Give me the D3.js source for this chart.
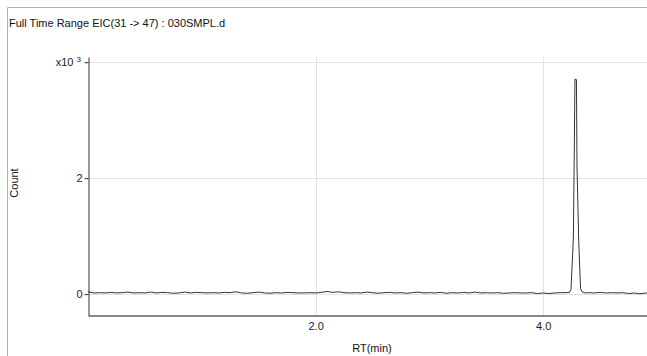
<!DOCTYPE html>
<html>
<head>
<meta charset="utf-8">
<script src="https://cdn.jsdelivr.net/npm/d3@7"></script>
<style>
  html, body { margin: 0; padding: 0; background: #fff; }
  svg { display: block; font-family: "Liberation Sans", Arial, sans-serif; }
</style>
</head>
<body>
<svg id="chart" width="647" height="356"></svg>
<script>
// Chromatogram trace: retention time (min) and count (x10^3)
const rtMin = [
  0.00, 0.05, 0.10, 0.15, 0.20, 0.25, 0.30, 0.35, 0.40, 0.45,
  0.50, 0.55, 0.60, 0.65, 0.70, 0.75, 0.80, 0.85, 0.90, 0.95,
  1.00, 1.05, 1.10, 1.15, 1.20, 1.25, 1.30, 1.35, 1.40, 1.45,
  1.50, 1.55, 1.60, 1.65, 1.70, 1.75, 1.80, 1.85, 1.90, 1.95,
  2.00, 2.05, 2.10, 2.15, 2.20, 2.25, 2.30, 2.35, 2.40, 2.45,
  2.50, 2.55, 2.60, 2.65, 2.70, 2.75, 2.80, 2.85, 2.90, 2.95,
  3.00, 3.05, 3.10, 3.15, 3.20, 3.25, 3.30, 3.35, 3.40, 3.45,
  3.50, 3.55, 3.60, 3.65, 3.70, 3.75, 3.80, 3.85, 3.90, 3.95,
  4.00, 4.05, 4.10, 4.15, 4.20, 4.23,
  4.244, 4.265, 4.273, 4.279, 4.292, 4.297, 4.312, 4.328, 4.341,
  4.37, 4.40, 4.45, 4.50, 4.55, 4.60, 4.65, 4.70, 4.75,
  4.80, 4.85, 4.90, 4.93
];
const counts = [
  0.040, 0.020, 0.025, 0.020, 0.030, 0.020, 0.025, 0.035, 0.020, 0.025,
  0.020, 0.035, 0.020, 0.030, 0.025, 0.015, 0.020, 0.035, 0.020, 0.030,
  0.025, 0.020, 0.025, 0.020, 0.030, 0.025, 0.040, 0.020, 0.015, 0.025,
  0.035, 0.020, 0.015, 0.025, 0.020, 0.030, 0.025, 0.020, 0.020, 0.025,
  0.020, 0.030, 0.045, 0.030, 0.040, 0.025, 0.020, 0.025, 0.020, 0.035,
  0.025, 0.015, 0.025, 0.030, 0.020, 0.025, 0.015, 0.025, 0.035, 0.020,
  0.025, 0.020, 0.030, 0.015, 0.025, 0.020, 0.030, 0.020, 0.035, 0.020,
  0.025, 0.020, 0.025, 0.015, 0.020, 0.025, 0.020, 0.020, 0.025, 0.010,
  0.020, 0.010, 0.020, 0.025, 0.025, 0.030,
  0.080, 0.970, 2.450, 3.710, 3.700, 2.200, 0.920, 0.100, 0.040,
  0.020, 0.025, 0.020, 0.030, 0.020, 0.025, 0.020, 0.025, 0.010,
  0.020, 0.005, 0.020, 0.015
];
const xTicks = [2, 4];
const yTicks = [0, 2, 4];

const title = 'Full Time Range EIC(31 -> 47) : 030SMPL.d';

const svg = d3.select('#chart');
const W = 647, H = 356;
const plot = { left: 88, right: 647, top: 57, bottom: 315 };

// Outer frame
svg.append('line')
  .attr('x1', 7.5).attr('x2', W).attr('y1', 7.5).attr('y2', 7.5)
  .attr('stroke', '#b0b0b0');
svg.append('line')
  .attr('x1', 7.5).attr('x2', 7.5).attr('y1', 7.5).attr('y2', H)
  .attr('stroke', '#b0b0b0');

// Scales
const x = d3.scaleLinear().domain([0, 4.912]).range([plot.left, plot.right]);
const y = d3.scaleLinear().domain([-0.36, 4.09]).range([plot.bottom, plot.top]);

// Grid lines
svg.append('g')
  .selectAll('line')
  .data(yTicks)
  .enter()
  .append('line')
  .attr('x1', plot.left).attr('x2', plot.right)
  .attr('y1', (d) => Math.round(y(d)) + 0.5)
  .attr('y2', (d) => Math.round(y(d)) + 0.5)
  .attr('stroke', '#e2e2e2');

svg.append('g')
  .selectAll('line')
  .data(xTicks)
  .enter()
  .append('line')
  .attr('x1', (d) => Math.round(x(d)) + 0.5)
  .attr('x2', (d) => Math.round(x(d)) + 0.5)
  .attr('y1', plot.top).attr('y2', plot.bottom)
  .attr('stroke', '#e2e2e2');

// Trace
const line = d3.line()
  .x((d, i) => x(rtMin[i]))
  .y((d) => y(d));

svg.append('path')
  .datum(counts)
  .attr('d', line)
  .attr('fill', 'none')
  .attr('stroke', '#333')
  .attr('stroke-width', 1);

// Y axis
const yAxis = svg.append('g')
  .attr('transform', `translate(${plot.left + 0.5},0)`)
  .call(d3.axisLeft(y).tickValues(yTicks).tickSize(4).tickSizeOuter(0)
    .tickFormat((d) => (d === 4 ? '' : d3.format('d')(d))));
yAxis.select('.domain').attr('stroke', '#333');
yAxis.selectAll('.tick line').attr('stroke', '#333');
yAxis.selectAll('.tick text')
  .attr('fill', '#222')
  .style('font-size', '11px')
  .attr('x', -6);

// Multiplier label at the top tick
const topY = y(4);
const mult = svg.append('text')
  .attr('x', 81)
  .attr('y', topY + 4)
  .attr('text-anchor', 'end')
  .attr('fill', '#222')
  .style('font-size', '11px');
mult.append('tspan').text('x10 ');
mult.append('tspan')
  .attr('dy', -4)
  .style('font-size', '8px')
  .text('3');

// X axis
const xAxis = svg.append('g')
  .attr('transform', `translate(0,${plot.bottom + 0.5})`)
  .call(d3.axisBottom(x).tickValues(xTicks).tickSize(0).tickSizeOuter(0)
    .tickFormat(d3.format('.1f')));
xAxis.select('.domain').attr('stroke', '#111');
xAxis.selectAll('.tick text')
  .attr('fill', '#222')
  .attr('dy', '0')
  .attr('y', 14)
  .style('font-size', '11px');

// Titles
svg.append('text')
  .attr('x', 9)
  .attr('y', 27)
  .attr('fill', '#111')
  .style('font-size', '11px')
  .text(title);

svg.append('text')
  .attr('transform', 'translate(18,183) rotate(-90)')
  .attr('text-anchor', 'middle')
  .attr('fill', '#111')
  .style('font-size', '11px')
  .text('Count');

svg.append('text')
  .attr('x', 372)
  .attr('y', 352)
  .attr('text-anchor', 'middle')
  .attr('fill', '#111')
  .style('font-size', '11px')
  .text('RT(min)');
</script>
</body>
</html>
